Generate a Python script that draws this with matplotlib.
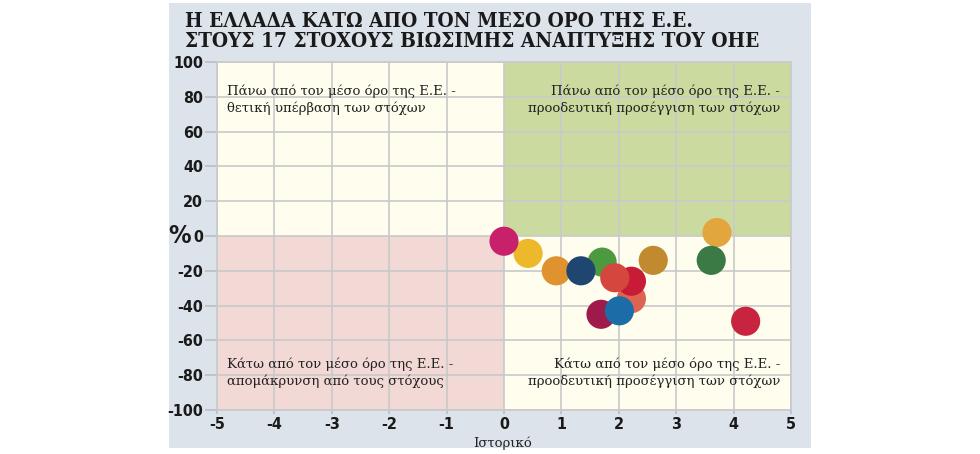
import matplotlib
matplotlib.use("Agg")
import matplotlib.pyplot as plt

# ---- data ----
x_hist = [0.0, 0.42, 0.91, 1.34, 1.71, 2.60, 3.71, 3.61, 4.21, 2.22, 2.22, 1.93, 1.69, 2.01]
y_pct = [-3, -10, -20, -20, -15, -14, 2, -14, -49, -26, -36, -24, -45, -43]
colors = ["#C8206A", "#EDB92B", "#E0922F", "#1F4670", "#4C9A3F", "#C18A2F", "#E3A63E",
          "#3B7A44", "#C8243F", "#C81B35", "#DC6450", "#D5463F", "#9E1A4A", "#1C6CA8"]
draw_order = [10, 9, 4, 11, 12, 13, 2, 3, 1, 0, 5, 6, 7, 8]

x_ticks = [-5, -4, -3, -2, -1, 0, 1, 2, 3, 4, 5]
y_ticks = [-100, -80, -60, -40, -20, 0, 20, 40, 60, 80, 100]

title_1 = "Η ΕΛΛΑΔΑ ΚΑΤΩ ΑΠΟ ΤΟΝ ΜΕΣΟ ΟΡΟ ΤΗΣ Ε.Ε."
title_2 = "ΣΤΟΥΣ 17 ΣΤΟΧΟΥΣ ΒΙΩΣΙΜΗΣ ΑΝΑΠΤΥΞΗΣ ΤΟΥ ΟΗΕ"
q_tl = "Πάνω από τον μέσο όρο της Ε.Ε. -\nθετική υπέρβαση των στόχων"
q_tr = "Πάνω από τον μέσο όρο της Ε.Ε. -\nπροοδευτική προσέγγιση των στόχων"
q_bl = "Κάτω από τον μέσο όρο της Ε.Ε. -\nαπομάκρυνση από τους στόχους"
q_br = "Κάτω από τον μέσο όρο της Ε.Ε. -\nπροοδευτική προσέγγιση των στόχων"
xlabel = "Ιστορικό"
ylabel = "%"

W, H = 980, 454
fig = plt.figure(figsize=(W / 100, H / 100), dpi=100)
fig.patch.set_facecolor("white")

# panel background
bg = fig.add_axes([169 / W, 1 - 448 / H, (811 - 169) / W, (448 - 3) / H], zorder=0)
bg.set_facecolor("#DCE3EB")
bg.set_xticks([])
bg.set_yticks([])
for s in bg.spines.values():
    s.set_visible(False)

ax = fig.add_axes([217 / W, 1 - 410 / H, (791 - 217) / W, (410 - 62) / H], zorder=2)
ax.set_xlim(x_ticks[0], x_ticks[-1])
ax.set_ylim(y_ticks[0], y_ticks[-1])
ax.set_facecolor("#FEFDEE")

# quadrants
ax.fill_between([0, x_ticks[-1]], 0, y_ticks[-1], color="#CBDBA0", lw=0, zorder=0)
ax.fill_between([x_ticks[0], 0], y_ticks[0], 0, color="#F2D9D6", lw=0, zorder=0)

ax.set_xticks(x_ticks)
ax.set_yticks(y_ticks)
ax.grid(True, color="#C9C9C9", lw=1.2, zorder=1)
ax.set_axisbelow(True)
for s in ax.spines.values():
    s.set_color("#C9C9C9")
    s.set_linewidth(1.2)
ax.tick_params(axis="y", length=9, width=1.2, color="#B8BEC6", pad=1)
ax.tick_params(axis="x", length=3, width=1.2, color="#B8BEC6", pad=2)
tick_font = dict(family="DejaVu Sans", stretch="condensed", weight="bold", size=11.5)
ax.set_xticklabels([str(v) for v in x_ticks], **tick_font, color="#1a1a1a")
ax.set_yticklabels([str(v) for v in y_ticks], **tick_font, color="#1a1a1a")

for k, i in enumerate(draw_order):
    ax.scatter(x_hist[i], y_pct[i], s=440, color=colors[i], edgecolors="none", zorder=3 + k * 0.01)

qfont = dict(family="DejaVu Serif", size=9.5, color="#222222", linespacing=1.35)
ax.text(-4.83, 87, q_tl, ha="left", va="top", **qfont, zorder=2)
ax.text(4.81, 87, q_tr, ha="right", va="top", **qfont, zorder=2)
ax.text(-4.83, -70, q_bl, ha="left", va="top", **qfont, zorder=2)
ax.text(4.81, -70, q_br, ha="right", va="top", **qfont, zorder=2)

tfont = dict(ha="left", va="baseline", family="DejaVu Serif", stretch="condensed",
             weight="bold", size=14.9, color="#1a1a1a", zorder=5)
fig.text(185 / W, 1 - 27 / H, title_1, **tfont)
fig.text(185 / W, 1 - 47 / H, title_2, **tfont)
fig.text(503 / W, 1 - 443 / H, xlabel, ha="center", va="center", family="DejaVu Serif",
         size=9.5, color="#222222", zorder=5)
fig.text(180 / W, 1 - 236 / H, ylabel, ha="center", va="center",
         family="DejaVu Sans", stretch="condensed", weight="bold", size=18,
         color="#1a1a1a", zorder=5)

fig.savefig("out.png", dpi=100)
